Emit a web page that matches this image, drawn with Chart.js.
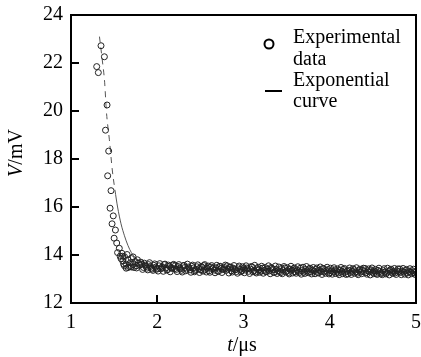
<!DOCTYPE html>
<html>
<head>
<meta charset="utf-8">
<script src="https://cdn.jsdelivr.net/npm/chart.js@4"></script>
<style>
  html, body { margin: 0; padding: 0; background: #fff; }
  #wrap { width: 421px; height: 357px; }
</style>
</head>
<body>
<div id="wrap"><canvas id="chart" width="421" height="357"></canvas></div>
<script>
// Tick values
const xTicks = [1, 2, 3, 4, 5];
const yTicks = [12, 14, 16, 18, 20, 22, 24];

// Experimental data: the steep drop, then the flat band
const dropT = [1.298, 1.317, 1.348, 1.387, 1.418, 1.400, 1.437, 1.425, 1.464, 1.453, 1.490,
  1.476, 1.515, 1.500, 1.530, 1.560, 1.590, 1.540, 1.570, 1.620, 1.600, 1.660, 1.640, 1.680,
  1.700, 1.720, 1.740, 1.760, 1.780, 1.800, 1.620, 1.660, 1.700,
  1.580, 1.610, 1.650, 1.690, 1.730, 1.770, 1.640, 1.600, 1.720, 1.760];
const dropV = [21.85, 21.60, 22.72, 22.26, 20.25, 19.20, 18.33, 17.30, 16.68, 15.95, 15.63,
  15.30, 15.04, 14.70, 14.50, 14.28, 14.07, 14.10, 13.95, 13.93, 13.75, 13.80, 13.62, 13.51,
  13.85, 13.60, 13.72, 13.55, 13.66, 13.58, 13.55, 13.48, 13.50,
  13.85, 13.62, 14.02, 13.68, 13.48, 13.80, 13.45, 13.95, 13.92, 13.46];

const bandT = [
  1.82, 1.84, 1.86, 1.88, 1.90, 1.92, 1.94, 1.96, 1.98, 2.00,
  2.02, 2.04, 2.06, 2.08, 2.10, 2.12, 2.14, 2.16, 2.18, 2.20,
  2.22, 2.24, 2.26, 2.28, 2.30, 2.32, 2.34, 2.36, 2.38, 2.40,
  2.42, 2.44, 2.46, 2.48, 2.50, 2.52, 2.54, 2.56, 2.58, 2.60,
  2.62, 2.64, 2.66, 2.68, 2.70, 2.72, 2.74, 2.76, 2.78, 2.80,
  2.82, 2.84, 2.86, 2.88, 2.90, 2.92, 2.94, 2.96, 2.98, 3.00,
  3.02, 3.04, 3.06, 3.08, 3.10, 3.12, 3.14, 3.16, 3.18, 3.20,
  3.22, 3.24, 3.26, 3.28, 3.30, 3.32, 3.34, 3.36, 3.38, 3.40,
  3.42, 3.44, 3.46, 3.48, 3.50, 3.52, 3.54, 3.56, 3.58, 3.60,
  3.62, 3.64, 3.66, 3.68, 3.70, 3.72, 3.74, 3.76, 3.78, 3.80,
  3.82, 3.84, 3.86, 3.88, 3.90, 3.92, 3.94, 3.96, 3.98, 4.00,
  4.02, 4.04, 4.06, 4.08, 4.10, 4.12, 4.14, 4.16, 4.18, 4.20,
  4.22, 4.24, 4.26, 4.28, 4.30, 4.32, 4.34, 4.36, 4.38, 4.40,
  4.42, 4.44, 4.46, 4.48, 4.50, 4.52, 4.54, 4.56, 4.58, 4.60,
  4.62, 4.64, 4.66, 4.68, 4.70, 4.72, 4.74, 4.76, 4.78, 4.80,
  4.82, 4.84, 4.86, 4.88, 4.90, 4.92, 4.94, 4.96, 4.98, 5.00];
const bandV = [
  13.62, 13.48, 13.58, 13.45, 13.60, 13.52, 13.41, 13.57, 13.49, 13.44,
  13.55, 13.42, 13.50, 13.60, 13.46, 13.39, 13.53, 13.47, 13.58, 13.43,
  13.40, 13.52, 13.45, 13.36, 13.55, 13.48, 13.41, 13.50, 13.38, 13.53,
  13.46, 13.35, 13.51, 13.43, 13.38, 13.49, 13.56, 13.40, 13.45, 13.34,
  13.50, 13.42, 13.37, 13.47, 13.33, 13.52, 13.44, 13.39, 13.48, 13.36,
  13.41, 13.49, 13.34, 13.45, 13.38, 13.31, 13.47, 13.40, 13.35, 13.44,
  13.37, 13.46, 13.32, 13.41, 13.50, 13.35, 13.29, 13.43, 13.38, 13.33,
  13.45, 13.36, 13.30, 13.42, 13.34, 13.48, 13.39, 13.28, 13.40, 13.35,
  13.31, 13.44, 13.37, 13.46, 13.33, 13.27, 13.41, 13.36, 13.43, 13.30,
  13.38, 13.32, 13.45, 13.35, 13.28, 13.40, 13.34, 13.42, 13.29, 13.37,
  13.33, 13.41, 13.27, 13.36, 13.31, 13.44, 13.30, 13.35, 13.39, 13.26,
  13.34, 13.29, 13.38, 13.32, 13.25, 13.37, 13.31, 13.40, 13.28, 13.33,
  13.36, 13.27, 13.32, 13.39, 13.30, 13.24, 13.35, 13.29, 13.37, 13.31,
  13.26, 13.34, 13.30, 13.38, 13.28, 13.33, 13.23, 13.36, 13.31, 13.27,
  13.35, 13.29, 13.24, 13.32, 13.37, 13.28, 13.31, 13.25, 13.34, 13.30,
  13.27, 13.33, 13.29, 13.36, 13.25, 13.31, 13.28, 13.34, 13.26, 13.30];

// second row of the band, between the first row's points
const band2T = [
  1.81, 1.83, 1.85, 1.87, 1.89, 1.91, 1.93, 1.95, 1.97, 1.99,
  2.01, 2.03, 2.05, 2.07, 2.09, 2.11, 2.13, 2.15, 2.17, 2.19,
  2.21, 2.23, 2.25, 2.27, 2.29, 2.31, 2.33, 2.35, 2.37, 2.39,
  2.41, 2.43, 2.45, 2.47, 2.49, 2.51, 2.53, 2.55, 2.57, 2.59,
  2.61, 2.63, 2.65, 2.67, 2.69, 2.71, 2.73, 2.75, 2.77, 2.79,
  2.81, 2.83, 2.85, 2.87, 2.89, 2.91, 2.93, 2.95, 2.97, 2.99,
  3.01, 3.03, 3.05, 3.07, 3.09, 3.11, 3.13, 3.15, 3.17, 3.19,
  3.21, 3.23, 3.25, 3.27, 3.29, 3.31, 3.33, 3.35, 3.37, 3.39,
  3.41, 3.43, 3.45, 3.47, 3.49, 3.51, 3.53, 3.55, 3.57, 3.59,
  3.61, 3.63, 3.65, 3.67, 3.69, 3.71, 3.73, 3.75, 3.77, 3.79,
  3.81, 3.83, 3.85, 3.87, 3.89, 3.91, 3.93, 3.95, 3.97, 3.99,
  4.01, 4.03, 4.05, 4.07, 4.09, 4.11, 4.13, 4.15, 4.17, 4.19,
  4.21, 4.23, 4.25, 4.27, 4.29, 4.31, 4.33, 4.35, 4.37, 4.39,
  4.41, 4.43, 4.45, 4.47, 4.49, 4.51, 4.53, 4.55, 4.57, 4.59,
  4.61, 4.63, 4.65, 4.67, 4.69, 4.71, 4.73, 4.75, 4.77, 4.79,
  4.81, 4.83, 4.85, 4.87, 4.89, 4.91, 4.93, 4.95, 4.97, 4.99];
const band2V = [
  13.70, 13.40, 13.66, 13.52, 13.38, 13.68, 13.45, 13.36, 13.63, 13.40,
  13.33, 13.64, 13.48, 13.32, 13.62, 13.37, 13.58, 13.30, 13.44, 13.61,
  13.56, 13.31, 13.60, 13.42, 13.29, 13.57, 13.34, 13.62, 13.46, 13.28,
  13.58, 13.30, 13.40, 13.59, 13.27, 13.52, 13.33, 13.60, 13.29, 13.54,
  13.28, 13.56, 13.46, 13.26, 13.57, 13.31, 13.53, 13.27, 13.43, 13.58,
  13.55, 13.25, 13.50, 13.29, 13.56, 13.40, 13.24, 13.54, 13.30, 13.51,
  13.26, 13.55, 13.42, 13.23, 13.52, 13.30, 13.57, 13.25, 13.49, 13.28,
  13.53, 13.24, 13.48, 13.31, 13.55, 13.22, 13.45, 13.27, 13.54, 13.23,
  13.50, 13.26, 13.22, 13.52, 13.29, 13.47, 13.21, 13.53, 13.25, 13.46,
  13.24, 13.51, 13.27, 13.20, 13.49, 13.23, 13.52, 13.26, 13.45, 13.21,
  13.48, 13.22, 13.46, 13.25, 13.50, 13.19, 13.43, 13.24, 13.49, 13.21,
  13.45, 13.20, 13.47, 13.23, 13.42, 13.18, 13.48, 13.22, 13.44, 13.19,
  13.21, 13.46, 13.19, 13.43, 13.24, 13.47, 13.18, 13.41, 13.22, 13.45,
  13.44, 13.20, 13.42, 13.17, 13.46, 13.22, 13.40, 13.19, 13.45, 13.21,
  13.18, 13.43, 13.21, 13.45, 13.17, 13.41, 13.23, 13.44, 13.19, 13.42,
  13.42, 13.18, 13.44, 13.20, 13.40, 13.17, 13.43, 13.22, 13.41, 13.19];

// Exponential fit curve
const curveT = [1.33, 1.36, 1.39, 1.41, 1.445, 1.48, 1.51, 1.54, 1.58, 1.62, 1.66, 1.70,
  1.75, 1.81, 1.90, 1.97, 2.2, 2.5, 3.0, 3.5, 4.0, 4.5, 5.0];
const curveV = [23.1, 22.2, 21.2, 20.0, 18.8, 17.5, 16.7, 16.0, 15.3, 14.8, 14.4, 14.1,
  13.88, 13.72, 13.62, 13.56, 13.48, 13.42, 13.37, 13.34, 13.31, 13.29, 13.28];

const legendItems = ['Experimental', 'data', 'Exponential', 'curve'];

const serif = '"Liberation Serif", "DejaVu Serif", serif';

const toPoints = (xs, ys) => xs.map((x, i) => ({ x: x, y: ys[i] }));

// Draws the box, inward ticks, legend and axis titles
const decorations = {
  id: 'decorations',
  afterDraw(chart) {
    const ctx = chart.ctx;
    const area = chart.chartArea;
    const xs = chart.scales.x;
    const ys = chart.scales.y;
    ctx.save();
    ctx.strokeStyle = '#000';
    ctx.lineWidth = 2;
    ctx.strokeRect(area.left, area.top, area.right - area.left, area.bottom - area.top);

    ctx.beginPath();
    xTicks.slice(1, -1).forEach(v => {
      const px = Math.round(xs.getPixelForValue(v));
      ctx.moveTo(px, area.bottom);
      ctx.lineTo(px, area.bottom - 8);
    });
    yTicks.slice(1, -1).forEach(v => {
      const py = Math.round(ys.getPixelForValue(v));
      ctx.moveTo(area.left, py);
      ctx.lineTo(area.left + 8, py);
    });
    ctx.stroke();

    // legend
    ctx.fillStyle = '#000';
    ctx.font = '20px ' + serif;
    ctx.textAlign = 'left';
    ctx.textBaseline = 'alphabetic';
    ctx.fillText(legendItems[0], 293, 43);
    ctx.fillText(legendItems[1], 293, 65);
    ctx.fillText(legendItems[2], 293, 86);
    ctx.fillText(legendItems[3], 293, 107);
    ctx.lineWidth = 2;
    ctx.beginPath();
    ctx.arc(269, 44, 4.5, 0, Math.PI * 2);
    ctx.stroke();
    ctx.beginPath();
    ctx.moveTo(265, 91);
    ctx.lineTo(282, 91);
    ctx.stroke();

    // axis titles with italic variable names
    const drawTitle = (parts, cx, cy) => {
      let total = 0;
      parts.forEach(p => { ctx.font = p[1] + '20px ' + serif; total += ctx.measureText(p[0]).width; });
      let x = cx - total / 2;
      parts.forEach(p => {
        ctx.font = p[1] + '20px ' + serif;
        ctx.fillText(p[0], x, cy);
        x += ctx.measureText(p[0]).width;
      });
    };
    ctx.textBaseline = 'middle';
    drawTitle([['t', 'italic '], ['/\u03bcs', '']], 242, 346);
    ctx.translate(17, 153);
    ctx.rotate(-Math.PI / 2);
    drawTitle([['V', 'italic '], ['/mV', '']], 0, 0);
    ctx.restore();
  }
};

new Chart(document.getElementById('chart'), {
  type: 'scatter',
  data: {
    datasets: [
      {
        label: 'Exponential curve',
        type: 'line',
        data: toPoints(curveT, curveV),
        borderColor: '#555',
        borderWidth: 1,
        pointRadius: 0,
        cubicInterpolationMode: 'monotone',
        segment: {
          borderDash: c => c.p0.parsed.x < 1.5 ? [6, 5] : undefined
        },
        order: 2
      },
      {
        label: 'Experimental data',
        data: toPoints(dropT.concat(bandT, band2T), dropV.concat(bandV, band2V)),
        pointRadius: 3,
        pointBorderWidth: 1,
        pointBorderColor: '#222',
        pointBackgroundColor: 'rgba(0,0,0,0)',
        order: 1
      }
    ]
  },
  options: {
    responsive: false,
    animation: false,
    layout: { padding: { top: 15, right: 5, left: 0, bottom: 0 } },
    plugins: {
      legend: { display: false },
      tooltip: { enabled: false }
    },
    scales: {
      x: {
        type: 'linear',
        min: 1,
        max: 5,
        afterBuildTicks: s => { s.ticks = xTicks.map(v => ({ value: v })); },
        afterFit: s => { s.height = 54; s.paddingLeft = 0; s.paddingRight = 0; },
        ticks: { color: '#000', font: { family: serif, size: 20 }, padding: 8 },
        grid: { display: false, drawTicks: false },
        border: { display: false }
      },
      y: {
        min: 12,
        max: 24,
        afterBuildTicks: s => { s.ticks = yTicks.map(v => ({ value: v })); },
        afterFit: s => { s.width = 71; s.paddingTop = 0; s.paddingBottom = 0; },
        ticks: { color: '#000', font: { family: serif, size: 20 }, padding: 8 },
        grid: { display: false, drawTicks: false },
        border: { display: false }
      }
    }
  },
  plugins: [decorations]
});
</script>
</body>
</html>
